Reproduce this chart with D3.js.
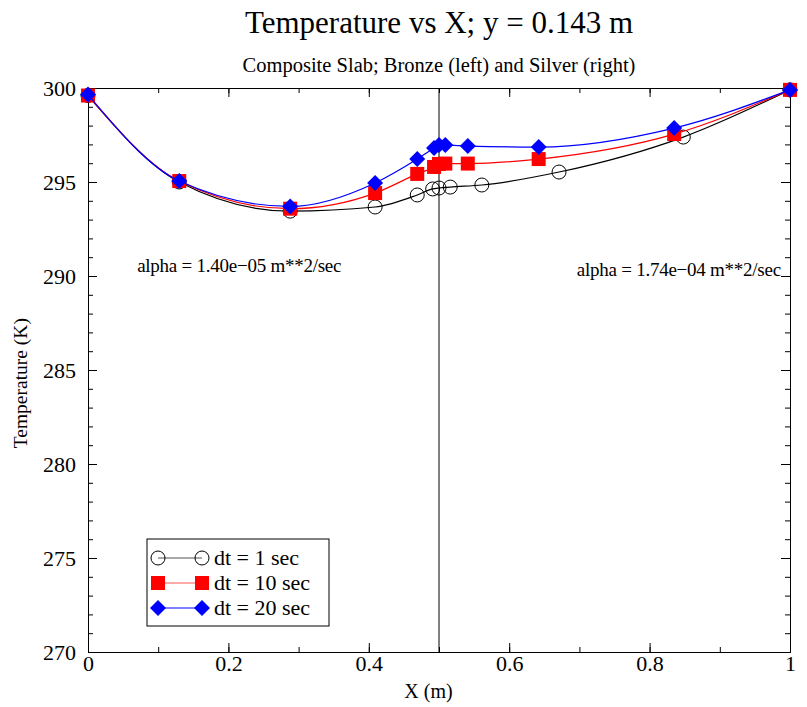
<!DOCTYPE html>
<meta charset="utf-8">
<html lang="en">
<head>
<style>
  body { margin: 0; background: #fff; }
  svg, svg text { font-family: "Liberation Serif", "Times New Roman", Times, "DejaVu Serif", serif !important; }
  .axis path, .axis line { stroke: #000; stroke-width: 1; }
  .axis text { font-size: 22px; fill: #000; }
</style>
</head>
<body>
<div id="chart"></div>
<script src="https://d3js.org/d3.v7.min.js"></script>
<script>
// data
var xs1 = [0, 0.13, 0.288, 0.409, 0.469, 0.491, 0.5, 0.516, 0.561, 0.671, 0.848, 1.0];
var t1  = [299.6, 295.0, 293.45, 293.67, 294.31, 294.63, 294.68, 294.73, 294.84, 295.53, 297.39, 299.9];
var xs2 = [0, 0.13, 0.288, 0.409, 0.469, 0.493, 0.5, 0.509, 0.541, 0.642, 0.835, 1.0];
var t2  = [299.6, 295.05, 293.58, 294.41, 295.43, 295.8, 295.96, 295.98, 295.98, 296.22, 297.55, 299.9];
var xs3 = [0, 0.13, 0.288, 0.409, 0.469, 0.493, 0.5, 0.509, 0.541, 0.642, 0.835, 1.0];
var t3  = [299.65, 295.05, 293.7, 294.95, 296.22, 296.81, 296.97, 296.97, 296.91, 296.86, 297.87, 299.9];
var seriesNames = ["dt = 1 sec", "dt = 10 sec", "dt = 20 sec"];
var xTicks = [0, 0.2, 0.4, 0.6, 0.8, 1];
var yTicks = [270, 275, 280, 285, 290, 295, 300];
var title = "Temperature vs X; y = 0.143 m";
var subtitle = "Composite Slab; Bronze (left) and Silver (right)";
var notes = ["alpha = 1.40e\u221205 m**2/sec", "alpha = 1.74e\u221204 m**2/sec"];

var FONT = "Liberation Serif, Times New Roman, serif";
var W = 807, H = 707;
var margin = {top: 88, right: 17, bottom: 55, left: 88};
var width = W - margin.left - margin.right,
    height = H - margin.top - margin.bottom;

var svg = d3.select("#chart").append("svg")
    .attr("width", W).attr("height", H)
    .attr("font-family", FONT);
var g = svg.append("g")
    .attr("transform", "translate(" + margin.left + "," + margin.top + ")");

var x = d3.scaleLinear().domain([0, 1]).range([0, width]);
var y = d3.scaleLinear().domain([270, 300]).range([height, 0]);

// axes, ticks pointing inward
function minorX() { return d3.range(0, 1.0001, 0.1); }
function minorY() { return d3.range(270, 300.001, 1); }

g.append("g").attr("class", "axis")
  .attr("transform", "translate(0," + height + ")")
  .call(d3.axisBottom(x).tickValues(minorX()).tickSize(-5).tickFormat(""));
g.append("g").attr("class", "axis")
  .attr("transform", "translate(0," + height + ")")
  .call(d3.axisBottom(x).tickValues(xTicks).tickSize(-9).tickPadding(3)
        .tickFormat(function(d){ return d === 0 || d === 1 ? d : d3.format(".1f")(d); }));
g.append("g").attr("class", "axis")
  .call(d3.axisTop(x).tickValues(minorX()).tickSize(-5).tickFormat(""));
g.append("g").attr("class", "axis")
  .call(d3.axisTop(x).tickValues(xTicks).tickSize(-9).tickFormat(""));

g.append("g").attr("class", "axis")
  .call(d3.axisLeft(y).tickValues(minorY()).tickSize(-5).tickFormat(""));
g.append("g").attr("class", "axis")
  .call(d3.axisLeft(y).tickValues(yTicks).tickSize(-9).tickPadding(12));
g.append("g").attr("class", "axis")
  .attr("transform", "translate(" + width + ",0)")
  .call(d3.axisRight(y).tickValues(minorY()).tickSize(-5).tickFormat(""));
g.append("g").attr("class", "axis")
  .attr("transform", "translate(" + width + ",0)")
  .call(d3.axisRight(y).tickValues(yTicks).tickSize(-9).tickFormat(""));

g.selectAll(".axis").attr("font-family", FONT);

// interface line at x = 0.5
g.append("line")
  .attr("x1", x(0.5)).attr("x2", x(0.5))
  .attr("y1", 0).attr("y2", height)
  .attr("stroke", "#000").attr("stroke-width", 1);

var line = d3.line()
  .x(function(d){ return x(d[0]); })
  .y(function(d){ return y(d[1]); })
  .curve(d3.curveMonotoneX);

var series = [
  {xs: xs1, ts: t1, color: "#000", marker: "circle"},
  {xs: xs2, ts: t2, color: "#f00", marker: "square"},
  {xs: xs3, ts: t3, color: "#00f", marker: "diamond"}
];

function drawMarker(sel, type, color) {
  if (type === "circle") {
    sel.append("circle").attr("r", 7).attr("fill", "none")
      .attr("stroke", color).attr("stroke-width", 1);
  } else if (type === "square") {
    sel.append("rect").attr("x", -7).attr("y", -7)
      .attr("width", 14).attr("height", 14).attr("fill", color);
  } else {
    sel.append("path").attr("d", "M0,-8L8,0L0,8L-8,0Z").attr("fill", color);
  }
}

series.forEach(function(s) {
  var pts = s.xs.map(function(v, i){ return [v, s.ts[i]]; });
  g.append("path").datum(pts)
    .attr("d", line).attr("fill", "none")
    .attr("stroke", s.color).attr("stroke-width", 1.2);
  var m = g.append("g").selectAll("g").data(pts).enter().append("g")
    .attr("transform", function(d){ return "translate(" + x(d[0]) + "," + y(d[1]) + ")"; });
  drawMarker(m, s.marker, s.color);
});

// annotations
g.append("text").attr("x", x(0.07)).attr("y", y(290.2))
  .attr("font-size", 19).attr("letter-spacing", -0.25).text(notes[0]);
g.append("text").attr("x", x(0.987)).attr("y", y(290.0))
  .attr("text-anchor", "end")
  .attr("font-size", 19).attr("letter-spacing", -0.25).text(notes[1]);

// legend
var leg = svg.append("g").attr("transform", "translate(147,539)");
leg.append("rect").attr("width", 182).attr("height", 87)
  .attr("fill", "#fff").attr("stroke", "#000").attr("stroke-width", 1);
var legColors = ["#555", "#f55", "#00f"];
seriesNames.forEach(function(name, i) {
  var cy = 19 + i * 25;
  leg.append("line").attr("x1", 11).attr("x2", 55)
    .attr("y1", cy).attr("y2", cy)
    .attr("stroke", legColors[i]).attr("stroke-width", 1.2);
  [11, 55].forEach(function(cx) {
    var mg = leg.append("g").attr("transform", "translate(" + cx + "," + cy + ")");
    drawMarker(mg, series[i].marker, series[i].color);
  });
  leg.append("text").attr("x", 67).attr("y", cy + 7)
    .attr("font-size", 22).text(name);
});

// titles
svg.append("text").attr("x", 439).attr("y", 33)
  .attr("text-anchor", "middle").attr("font-size", 31).text(title);
svg.append("text").attr("x", 439).attr("y", 72)
  .attr("text-anchor", "middle").attr("font-size", 20.5).text(subtitle);
svg.append("text").attr("x", margin.left + x(0.485)).attr("y", 698)
  .attr("text-anchor", "middle").attr("font-size", 20).text("X (m)");
svg.append("text")
  .attr("transform", "translate(27," + (margin.top + y(284.3)) + ") rotate(-90)")
  .attr("text-anchor", "middle").attr("font-size", 19.5).text("Temperature (K)");
</script>
</body>
</html>
